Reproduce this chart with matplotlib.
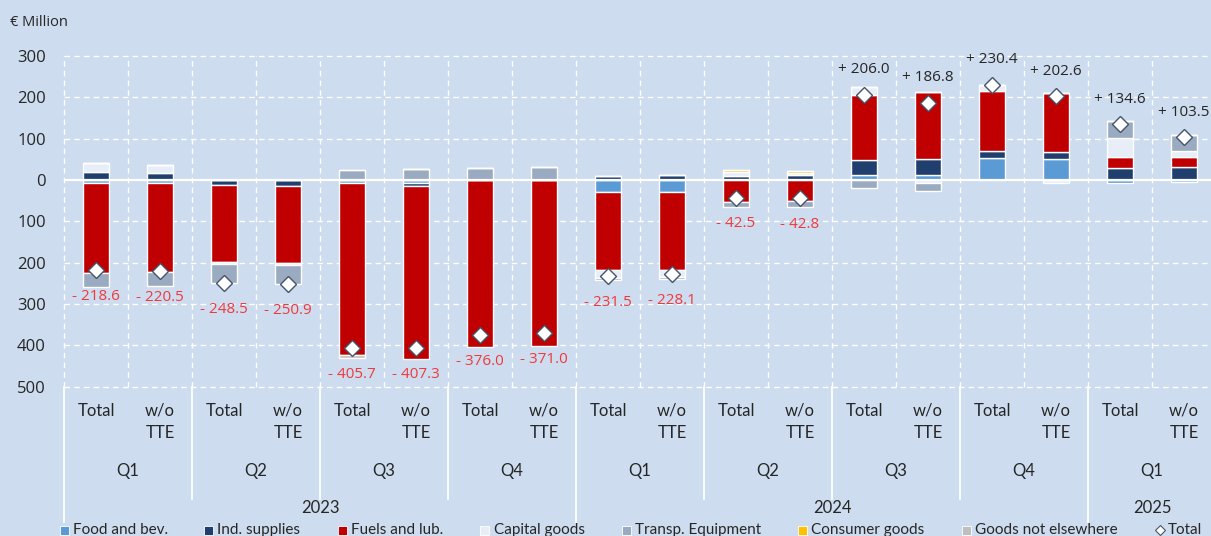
import matplotlib
matplotlib.use("Agg")
import matplotlib.pyplot as plt
import numpy as np
from matplotlib.lines import Line2D
from matplotlib.patches import Rectangle

# ---------------- data ----------------
categories = ['Total', 'w/o\nTTE'] * 9
quarters = ['Q1', 'Q2', 'Q3', 'Q4', 'Q1', 'Q2', 'Q3', 'Q4', 'Q1']
years = ['2023', '2024', '2025']
quarters_per_year = [4, 4, 1]

food = [-8, -8, 0, 0, -8, -8, 0, 0, -30, -30, 0, 0, 12, 11, 52.5, 52, -7, -6]
ind_supplies = [20, 17, -13, -15, 0, -7, 0, 0, 10, 12, 9, 12, 36, 41, 18, 15, 30, 30.7]
fuels = [-217.6, -215.5, -186, -186, -416, -418.3, -405, -402, -188, -188, -52, -51,
         158, 161, 144, 144, 26.5, 25.7]
capital = [20, 19, -5, -4, 0, 0, 0, 0, -18, -17, 10, 6, 20, -7, 15.9, -8.4, 45, 14.5]
transp = [-33, -33, -44.5, -45.9, 24.3, 26, 29, 31, -5.5, -5.1, -14, -13.8,
          -20, -19.2, 0, 0, 40.1, 38.6]
consumer = [0, 0, 0, 0, 0, 0, 0, 0, 0, 0, 4.5, 4, 0, 0, 0, 0, 0, 0]
goods_ne = [0, 0, 0, 0, -6, 0, 0, 0, 0, 0, 0, 0, 0, 0, 0, 0, 0, 0]
totals = [-218.6, -220.5, -248.5, -250.9, -405.7, -407.3, -376.0, -371.0, -231.5,
          -228.1, -42.5, -42.8, 206.0, 186.8, 230.4, 202.6, 134.6, 103.5]

series_names = ['Food and bev.', 'Ind. supplies', 'Fuels and lub.', 'Capital goods',
                'Transp. Equipment', 'Consumer goods', 'Goods not elsewhere']
series_vals = [food, ind_supplies, fuels, capital, transp, consumer, goods_ne]
series_colors = ['#5B9BD5', '#203F6E', '#C00000', '#E8EEF7', '#9AAAC0', '#FFC000', '#BFBFBF']

BG = '#CDDCEE'
W, H = 1211, 536

fig = plt.figure(figsize=(W / 100, H / 100), dpi=100, facecolor=BG)
y_top_px, y_bot_px = 56, 386.7
ax = fig.add_axes([64 / W, 1 - y_bot_px / H, 1152 / W, (y_bot_px - y_top_px) / H])
ax.set_facecolor(BG)
for s in ax.spines.values():
    s.set_visible(False)

n = len(totals)
x = np.arange(n)
ax.set_xlim(-0.5, 17.5)
ax.set_ylim(-500, 300)

# grid
for yv in range(-500, 301, 100):
    if yv == 0:
        continue
    ax.axhline(yv, color='white', lw=1, ls=(0, (4, 3)), zorder=0, clip_on=False)
for k in range(-1, n):
    ax.axvline(k + 0.5, color='white', lw=1, ls=(0, (4, 3)), zorder=0, clip_on=False)

# stacked bars
pos = np.zeros(n)
neg = np.zeros(n)
bw = 0.41
for name, vals, col in zip(series_names, series_vals, series_colors):
    v = np.array(vals, dtype=float)
    bottom = np.where(v >= 0, pos, neg)
    ax.bar(x, v, bw, bottom=bottom, color=col, edgecolor='white', linewidth=1.0, zorder=2)
    pos = pos + np.where(v >= 0, v, 0)
    neg = neg + np.where(v < 0, v, 0)

ax.axhline(0, color='white', lw=1.6, zorder=3)

# totals
ax.plot(x, totals, ls='none', marker='D', ms=8, mfc='white', mec='#44546A', mew=1.0, zorder=5)
for xi, t in zip(x, totals):
    if t < 0:
        ax.annotate(f'- {abs(t):.1f}', (xi, t), xytext=(0, -19), textcoords='offset points',
                    ha='center', va='center', fontsize=11, color='#F0393C',
                    family='Open Sans', annotation_clip=False, zorder=6)
    else:
        ax.annotate(f'+ {t:.1f}', (xi, t), xytext=(0, 18), textcoords='offset points',
                    ha='center', va='center', fontsize=11, color='#262626',
                    family='Open Sans', annotation_clip=False, zorder=6)

# y axis
yt = list(range(-500, 301, 100))
ax.set_yticks(yt)
ax.set_yticklabels([str(abs(v)) for v in yt], fontsize=12, color='#262626', family='Open Sans')
ax.tick_params(axis='y', length=0, pad=13)
ax.set_xticks([])

fig.text(10 / W, 1 - 23 / H, '€ Million', fontsize=10.5, color='#262626', family='Open Sans',
         ha='left', va='center')

# multi-level category axis
def px_x(xd):
    return (64 + (xd + 0.5) * 64) / W

def fy(py):
    return 1 - py / H

for xi, lab in zip(x, categories):
    fig.text(px_x(xi), fy(403), lab, ha='center', va='top', fontsize=12, family='Lato',
             color='#262626', linespacing=1.45)

for qi, q in enumerate(quarters):
    fig.text(px_x(2 * qi + 0.5), fy(471), q, ha='center', va='center', fontsize=12,
             family='Lato', color='#262626')

start = 0
year_bounds = [0]
for yname, cnt in zip(years, quarters_per_year):
    nb = cnt * 2
    fig.text(px_x(start + (nb - 1) / 2), fy(508), yname, ha='center', va='center',
             fontsize=12, family='Lato', color='#262626')
    start += nb
    year_bounds.append(start)

for qi in range(1, len(quarters)):
    bx = 2 * qi
    if bx in year_bounds:
        continue
    xx = (64 + bx * 64) / W
    fig.add_artist(Line2D([xx, xx], [fy(387), fy(499)], color='white', lw=1.3))
for bx in year_bounds[:-1]:
    xx = (64 + bx * 64) / W
    fig.add_artist(Line2D([xx, xx], [fy(387), fy(522)], color='white', lw=1.3))

# legend (manual)
leg_sq_x = [59.5, 204, 337.5, 480, 622, 798, 961.5]
leg_tx_x = [73, 217, 351, 494, 635, 811, 975]
ly = 530
sq = 9
for name, col, sx, tx in zip(series_names, series_colors, leg_sq_x, leg_tx_x):
    fig.add_artist(Rectangle((sx / W, fy(ly + sq / 2)), sq / W, sq / H, transform=fig.transFigure,
                             facecolor=col, edgecolor='white', lw=0.6))
    fig.text(tx / W, fy(ly), name, ha='left', va='center', fontsize=11, family='Lato',
             color='#262626')
fig.add_artist(Line2D([1160 / W], [fy(ly)], marker='D', ms=5.5, mfc='white', mec='#44546A',
                      mew=0.8, ls='none', transform=fig.transFigure))
fig.text(1168 / W, fy(ly), 'Total', ha='left', va='center', fontsize=11, family='Lato',
         color='#262626')

fig.savefig('out.png', dpi=100, facecolor=BG)
